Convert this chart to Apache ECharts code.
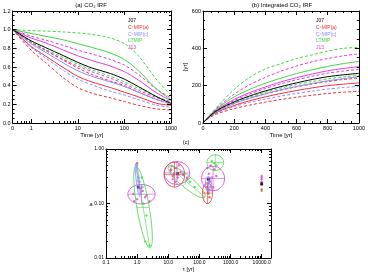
<!DOCTYPE html>
<html><head><meta charset="utf-8">
<script src="https://cdn.jsdelivr.net/npm/echarts@6/dist/echarts.min.js"></script>
<style>html,body{margin:0;padding:0;background:#fff}#c{width:368px;height:273px}</style>
</head><body><div id="c"></div>
<script>
// ---------- Panel (a): CO2 IRF ----------
const timeA = [0.4, 1, 2, 5, 10, 20, 50, 100, 200, 500, 1000];
const irfBlack      = [1.00, 0.88, 0.81, 0.72, 0.65, 0.59, 0.53, 0.47, 0.39, 0.28, 0.21];
const irfRedSolid   = [1.00, 0.82, 0.72, 0.59, 0.50, 0.44, 0.38, 0.33, 0.28, 0.21, 0.19];
const irfRedDashHi  = [1.00, 0.87, 0.78, 0.67, 0.59, 0.52, 0.45, 0.40, 0.33, 0.25, 0.20];
const irfRedDashLo  = [1.00, 0.78, 0.65, 0.48, 0.38, 0.32, 0.27, 0.23, 0.19, 0.15, 0.14];
const irfBlueSolid  = [1.00, 0.85, 0.76, 0.64, 0.56, 0.50, 0.44, 0.39, 0.33, 0.25, 0.21];
const irfBlueDash   = [1.00, 0.81, 0.70, 0.56, 0.47, 0.41, 0.34, 0.30, 0.25, 0.19, 0.17];
const irfGreenSolid = [1.00, 0.96, 0.93, 0.89, 0.85, 0.81, 0.75, 0.68, 0.56, 0.36, 0.25];
const irfGreenDashHi= [1.00, 0.99, 0.985, 0.975, 0.965, 0.95, 0.91, 0.85, 0.72, 0.46, 0.30];
const irfGreenDashLo= [1.00, 0.87, 0.79, 0.70, 0.63, 0.57, 0.50, 0.44, 0.37, 0.28, 0.23];
const irfMagSolid   = [1.00, 0.91, 0.86, 0.78, 0.72, 0.67, 0.61, 0.55, 0.46, 0.32, 0.24];
const irfMagDashHi  = [1.00, 0.93, 0.89, 0.83, 0.78, 0.74, 0.68, 0.62, 0.52, 0.36, 0.27];
const irfMagDashLo  = [1.00, 0.86, 0.78, 0.68, 0.61, 0.55, 0.48, 0.42, 0.35, 0.27, 0.22];

// ---------- Panel (b): integrated CO2 IRF ----------
const timeB = [0, 50, 100, 200, 300, 400, 500, 600, 700, 800, 900, 1000];
const intBlack      = [0, 42, 72, 113, 145, 172, 195, 215, 233, 248, 258, 266];
const intRedSolid   = [0, 38, 62, 94, 119, 140, 158, 174, 188, 200, 208, 215];
const intRedDashHi  = [0, 41, 68, 105, 133, 156, 176, 194, 209, 222, 233, 240];
const intRedDashLo  = [0, 33, 52, 77, 96, 112, 126, 138, 149, 158, 165, 170];
const intBlueSolid  = [0, 40, 67, 104, 133, 157, 178, 196, 212, 226, 238, 248];
const intBlueDash   = [0, 37, 59, 88, 110, 128, 144, 158, 171, 182, 190, 197];
const intGreenSolid = [0, 46, 84, 140, 180, 213, 240, 265, 285, 303, 318, 330];
const intGreenDashHi= [0, 49, 96, 180, 245, 290, 318, 345, 365, 385, 400, 405];
const intGreenDashLo= [0, 42, 71, 110, 140, 165, 187, 206, 222, 236, 247, 255];
const intMagSolid   = [0, 44, 78, 126, 163, 193, 220, 243, 262, 280, 292, 302];
const intMagDashHi  = [0, 47, 88, 155, 205, 245, 278, 305, 328, 345, 360, 370];
const intMagDashLo  = [0, 43, 75, 120, 155, 185, 210, 232, 250, 267, 278, 288];

// ---------- Panel (c): tau vs a ----------
const ellTau = [1.38, 1.55, 1.05, 19.0, 15.8, 38.9, 324, 275, 182, 195];
const ellA   = [0.148, 0.085, 0.263, 0.363, 0.339, 0.251, 0.562, 0.288, 0.155, 0.224];
const ellU   = [[0.44,0],[-0.22,0.75],[-0.065,0.31],[0.41,0],[0.33,0],[0.59,-0.285],[0.27,0],[0.37,0],[0.16,0],[0.10,0]];
const ellV   = [[0,0.18],[0.20,0],[0.05,0],[0,0.21],[0,0.23],[-0.126,-0.081],[0,0.145],[0,0.225],[0,0.195],[0,0.15]];
const ellGroup = ['mag','green','blue','mag','red','green','green','mag','red','blue'];

const ptsMagTau = [0.75,1.0,1.5,2.0,1.3,2.5,0.8,1.8,1.1, 12,15,18,20,25,14,22,30,13,17,40, 200,250,300,220,180,280,350,230, 10000,10000,10000,10000,10000];
const ptsMagA   = [0.15,0.12,0.17,0.14,0.19,0.11,0.11,0.13,0.20, 0.42,0.35,0.45,0.30,0.38,0.28,0.50,0.33,0.48,0.25,0.30, 0.35,0.30,0.42,0.25,0.45,0.20,0.32,0.50, 0.32,0.28,0.25,0.22,0.30];
const ptsRedTau = [12,14,16,20, 190,200,210,180, 10000, 1.0];
const ptsRedA   = [0.40,0.32,0.45,0.36, 0.16,0.18,0.13,0.20, 0.18, 0.55];
const ptsGreenTau = [1.4,1.6,2.0,1.8,2.5,1.5, 30,50,70,40, 250,300,350,200, 10000];
const ptsGreenA   = [0.30,0.10,0.06,0.02,0.017,0.20, 0.35,0.25,0.20,0.28, 0.60,0.55,0.50,0.15, 0.17];
const ptsBlueTau = [1.0,1.1,1.2, 200,220];
const ptsBlueA   = [0.50,0.30,0.25, 0.25,0.20];
const ptsBlackTau = [1.1, 20, 195, 10000];
const ptsBlackA   = [0.20, 0.35, 0.28, 0.23];

const legendNames = ['J07', 'C\u2074MIP(a)', 'C\u2074MIP(c)', 'LTMIP', 'J13'];

const COL = {black:'#000000', red:'#e8323c', blue:'#8c8cff', green:'#3fd83f', mag:'#e03ce0'};
const legendColors = [COL.black, COL.red, COL.blue, COL.green, COL.mag];
const F = 'Liberation Sans';
const L = Math.log10;

function ax(grid, pos, min, max, o){
  o = o || {};
  const a = {gridIndex:grid, position:pos, type:'value', min:min, max:max,
    axisLine:{show:o.line!==false, onZero:false, lineStyle:{color:'#000', width:1}},
    axisTick:{show:true, inside:true, length:o.tl||4, lineStyle:{color:'#000', width:1}},
    minorTick:{show:!!o.minor, splitNumber:o.minor||5, length:2, lineStyle:{color:'#000', width:1}},
    axisLabel:{show:!!o.fmt, fontSize:o.fs||5.5, fontFamily:F, color:'#000', margin:o.margin||2, formatter:o.fmt},
    splitLine:{show:false}, z:10};
  if (o.interval) a.interval = o.interval;
  if (o.ticks) a.axisTick.customValues = o.ticks;
  if (o.labs) a.axisLabel.customValues = o.labs;
  if (o.name){ a.name=o.name; a.nameLocation='middle'; a.nameGap=o.ng; a.nameRotate=o.nr||0;
    a.nameTextStyle={fontSize:o.nfs||6, fontFamily:F, color:'#000'}; }
  return a;
}
function minorLog(d0, d1, lo, hi){
  const r=[];
  for (let d=d0; d<=d1; d++) for (let k=2;k<=9;k++){ const v=k*Math.pow(10,d); if (v>lo && v<hi) r.push(L(v)); }
  return r;
}

// panel (a) axis
const aMin = L(0.4), aMax = 3;
const aMinor = minorLog(-1, 2, 0.4, 1000);
const cMinorX = minorLog(-1, 4, 0.1, 20000);
const cMinorY = minorLog(-2, -1, 0.01, 1);

const xAxis = [
  ax(0,'bottom',aMin,aMax,{ticks:[0,1,2,3], labs:[aMin,0,1,2,3], fmt:v=> v<-0.1?'0':String(Math.round(Math.pow(10,v))), name:'Time [yr]', ng:9}),
  ax(0,'bottom',aMin,aMax,{line:false, ticks:aMinor, tl:2}),
  ax(0,'top',aMin,aMax,{ticks:[0,1,2,3]}),
  ax(0,'top',aMin,aMax,{line:false, ticks:aMinor, tl:2}),
  ax(1,'bottom',0,1000,{interval:200, minor:4, fmt:v=>String(v), name:'Time [yr]', ng:9}),
  ax(1,'top',0,1000,{interval:200, minor:4}),
  ax(2,'bottom',-1,4.3,{ticks:[-1,0,1,2,3,4], labs:[-1,0,1,2,3,4], fmt:v=>Math.pow(10,v).toFixed(1), fs:5, name:'\u03c4 [yr]', ng:8, nfs:5.5}),
  ax(2,'bottom',-1,4.3,{line:false, ticks:cMinorX, tl:2}),
  ax(2,'top',-1,4.3,{ticks:[-1,0,1,2,3,4]}),
  ax(2,'top',-1,4.3,{line:false, ticks:cMinorX, tl:2})
];
const yAxis = [
  ax(0,'left',0,1.2,{interval:0.2, minor:4, fmt:v=>v.toFixed(1)}),
  ax(0,'right',0,1.2,{interval:0.2, minor:4}),
  ax(1,'left',0,600,{interval:200, minor:4, fmt:v=>String(v), name:'[yr]', ng:14, nr:90}),
  ax(1,'right',0,600,{interval:200, minor:4}),
  ax(2,'left',-2,0,{ticks:[-2,-1,0], labs:[-2,-1,0], fmt:v=>Math.pow(10,v).toFixed(2), fs:5}),
  ax(2,'left',-2,0,{line:false, ticks:cMinorY, tl:2}),
  ax(2,'right',-2,0,{ticks:[-2,-1,0]}),
  ax(2,'right',-2,0,{line:false, ticks:cMinorY, tl:2})
];

const series = [];
function lineS(xi, yi, xs, ys, color, dashed, xf){
  series.push({type:'line', xAxisIndex:xi, yAxisIndex:yi, showSymbol:false, smooth:0.3, silent:true, animation:false,
    data: xs.map((x,i)=>[xf?xf(x):x, ys[i]]),
    lineStyle:{color:color, width:1, type: dashed?[3,2]:'solid'}});
}
const aList = [
  [irfRedDashLo,COL.red,true],[irfBlueDash,COL.blue,true],[irfRedSolid,COL.red,false],[irfRedDashHi,COL.red,true],
  [irfBlueSolid,COL.blue,false],[irfMagDashLo,COL.mag,true],[irfGreenDashLo,COL.green,true],[irfMagSolid,COL.mag,false],
  [irfMagDashHi,COL.mag,true],[irfGreenSolid,COL.green,false],[irfGreenDashHi,COL.green,true],[irfBlack,COL.black,false]
];
aList.forEach(s=>lineS(0,0,timeA,s[0],s[1],s[2],L));
const bList = [
  [intRedDashLo,COL.red,true],[intBlueDash,COL.blue,true],[intRedSolid,COL.red,false],[intRedDashHi,COL.red,true],
  [intBlueSolid,COL.blue,false],[intGreenDashLo,COL.green,true],[intMagDashLo,COL.mag,true],[intMagSolid,COL.mag,false],
  [intGreenSolid,COL.green,false],[intMagDashHi,COL.mag,true],[intGreenDashHi,COL.green,true],[intBlack,COL.black,false]
];
bList.forEach(s=>lineS(4,2,timeB,s[0],s[1],s[2],null));

// ellipses in (c)
ellTau.forEach((t,i)=>{
  const cx=L(t), cy=L(ellA[i]), u=ellU[i], v=ellV[i], col=COL[ellGroup[i]];
  const pts=[];
  for (let k=0;k<=60;k++){ const th=2*Math.PI*k/60; pts.push([cx+Math.cos(th)*u[0]+Math.sin(th)*v[0], cy+Math.cos(th)*u[1]+Math.sin(th)*v[1]]); }
  const base={type:'line', xAxisIndex:6, yAxisIndex:4, showSymbol:false, silent:true, animation:false};
  series.push(Object.assign({}, base, {data:pts, lineStyle:{color:col, width:0.8}}));
  series.push(Object.assign({}, base, {data:[[cx-u[0],cy-u[1]],[cx+u[0],cy+u[1]]], lineStyle:{color:col, width:0.6}}));
  series.push(Object.assign({}, base, {data:[[cx-v[0],cy-v[1]],[cx+v[0],cy+v[1]]], lineStyle:{color:col, width:0.6}}));
});
function scat(ts, as, color, sym, size){
  series.push({type:'scatter', xAxisIndex:6, yAxisIndex:4, silent:true, animation:false, symbol:sym, symbolSize:size,
    data: ts.map((t,i)=>[L(t), L(as[i])]), itemStyle:{color:color}});
}
scat(ptsGreenTau, ptsGreenA, COL.green, 'diamond', 3);
scat(ptsBlueTau, ptsBlueA, COL.blue, 'diamond', 3);
scat(ptsRedTau, ptsRedA, COL.red, 'diamond', 3);
scat(ptsMagTau, ptsMagA, COL.mag, 'diamond', 3);
scat(ptsBlackTau, ptsBlackA, COL.black, 'rect', 3);

function txt(x,y,t,color,size,align){
  return {type:'text', x:x, y:y, silent:true, z:100,
    style:{text:t, fill:color, font:size+'px "'+F+'"', align:align||'left', verticalAlign:'middle'}};
}
const graphic = [
  txt(91,5,'(a) CO\u2082 IRF','#000',6,'center'),
  txt(282,5,'(b) Integrated CO\u2082 IRF','#000',6,'center'),
  txt(186,142,'(c)','#000',5.5,'center'),
  txt(91,204,'a','#000',5.5,'center')
];
legendNames.forEach((n,i)=>{
  graphic.push(txt(128, 21+i*6.7, n, legendColors[i], 5));
  graphic.push(txt(316, 21+i*6.7, n, legendColors[i], 5));
});

const chart = echarts.init(document.getElementById('c'), null, {width:368, height:273});
chart.setOption({
  animation:false,
  backgroundColor:'#fff',
  grid:[
    {left:11, top:11, width:160, height:112},
    {left:203, top:11, width:159, height:112},
    {left:106, top:149, width:165, height:111}
  ],
  xAxis:xAxis, yAxis:yAxis, series:series, graphic:graphic
});
</script></body></html>
